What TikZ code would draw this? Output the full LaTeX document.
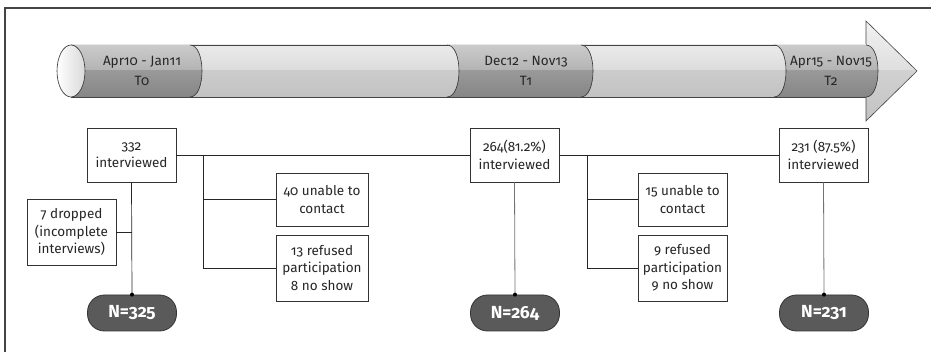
\documentclass[tikz,border=0pt]{standalone}
\usepackage{fontspec}
\setmainfont{Fira Sans}[Numbers=OldStyle]
\definecolor{frame}{HTML}{444444}
\definecolor{pillfill}{HTML}{5A5A5A}
\definecolor{pillline}{HTML}{333333}
\newcommand\cylseg[2]{%
  \begin{scope}
    \clip (#1,45) .. controls ({#1+16},45) and ({#1+16},97) .. (#1,97) -- (#2,97) .. controls ({#2+16},97) and ({#2+16},45) .. (#2,45) -- cycle;
    \shade[top color=white!80!black, bottom color=white!70!black] ({#1-5},44) rectangle ({#2+20},71);
    \shade[top color=white!60!black, bottom color=white!52!black] ({#1-5},71) rectangle ({#2+20},98);
  \end{scope}
  \draw[pillline, line width=0.6pt] (#1,45) .. controls ({#1+16},45) and ({#1+16},97) .. (#1,97);
  \draw[pillline, line width=0.6pt] (#2,45) .. controls ({#2+16},45) and ({#2+16},97) .. (#2,97);
}
\begin{document}
\begin{tikzpicture}[x=1pt,y=-1pt,
  font=\fontsize{13.5}{17.5}\selectfont,
  box/.style={draw=black!80, fill=white, line width=0.7pt, align=center, inner sep=0pt, text=black!85},
  pill/.style={draw=pillline, fill=pillfill, line width=0.8pt, rounded corners=17pt, inner sep=0pt,
    minimum width=89pt, minimum height=36pt, text=white, font=\fontsize{17.5}{20}\selectfont\bfseries},
  link/.style={draw=black!85, line width=0.7pt},
  glink/.style={draw=black!55, line width=0.8pt},
  seglabel/.style={align=center, text=black!85, font=\fontsize{13.5}{20}\selectfont},
  dot/.style={circle, fill=black, inner sep=0pt, minimum size=4pt}]
\useasboundingbox (0,0) rectangle (931,352);
% frame
\draw[frame, line width=1.2pt] (5,352) -- (5,8) -- (931,8);
% arrow head
\begin{scope}
  \clip (866,21) -- (917,71) -- (866,121) -- cycle;
  \shade[top color=white!95!black, bottom color=white!87!black] (860,20) rectangle (920,71);
  \shade[top color=white!82!black, bottom color=white!76!black] (860,71) rectangle (920,122);
\end{scope}
\draw[frame, line width=0.6pt, line join=miter] (866,21) -- (917,71) -- (866,121) -- cycle;
% body
\shade[top color=white!92!black, bottom color=white!86!black] (71,45) rectangle (866,71);
\shade[top color=white!80!black, bottom color=white!76!black] (71,71) rectangle (866,97);
\draw[frame, line width=0.6pt] (71,45) -- (866,45);
\draw[frame, line width=0.6pt] (71,97) -- (866,97);
% segments
\cylseg{71}{190}
\cylseg{447}{581}
\cylseg{774}{866}
% end face
\shade[left color=white, right color=white!85!black, draw=pillline, line width=0.6pt] (71,71) ellipse [x radius=14, y radius=26];
% segment labels
\node[seglabel] (l0) at (142,71) {Apr10 - Jan11\\T0};
\node[seglabel] (l1) at (526,71) {Dec12 - Nov13\\T1};
\node[seglabel] (l2) at (831,71) {Apr15 - Nov15\\T2};
% boxes
\node[box, minimum width=89pt, minimum height=54pt] (a) at (131.5,155) {332\\interviewed};
\node[box, minimum width=89pt, minimum height=66pt] (d) at (71.5,232) {7 dropped\\(incomplete\\interviews)};
\node[box, minimum width=92pt, minimum height=53pt] (u1) at (322,199.5) {40 unable to\\contact};
\node[box, minimum width=92pt, minimum height=66pt] (r1) at (322,268) {13 refused\\participation\\8 no show};
\node[box, minimum width=89pt, minimum height=54pt] (b) at (514.5,155) {264(81.2\%)\\interviewed};
\node[box, minimum width=89pt, minimum height=53pt] (u2) at (682.5,199.5) {15 unable to\\contact};
\node[box, minimum width=89pt, minimum height=66pt] (r2) at (682.5,268) {9 refused\\participation\\9 no show};
\node[box, minimum width=89pt, minimum height=54pt] (c) at (823.5,155) {231 (87.5\%)\\interviewed};
% pills
\node[pill] (p1) at (132,313) {N=325};
\node[pill] (p2) at (515,313) {N=264};
\node[pill] (p3) at (824,313) {N=231};
% connectors
\draw[link] (a.east) -- (b.west);
\draw[link] (b.east) -- (c.west);
\coordinate (j1) at (203,155);
\coordinate (j2) at (587,155);
\draw[link] (j1) |- (u1.west);
\draw[link] (j1) |- (r1.west);
\draw[link] (j2) |- (u2.west);
\draw[link] (j2) |- (r2.west);
\draw[link] (a.south) -- (p1.north);
\draw[link] (d.east) -- (a.south |- d.east);
\draw[glink] (b.south) -- (p2.north);
\draw[glink] (c.south) -- (p3.north);
\node[dot] (dt1) at (p1.north) {};
\node[dot] (dt2) at (p2.north) {};
\node[dot] (dt3) at (p3.north) {};
\end{tikzpicture}
\end{document}
